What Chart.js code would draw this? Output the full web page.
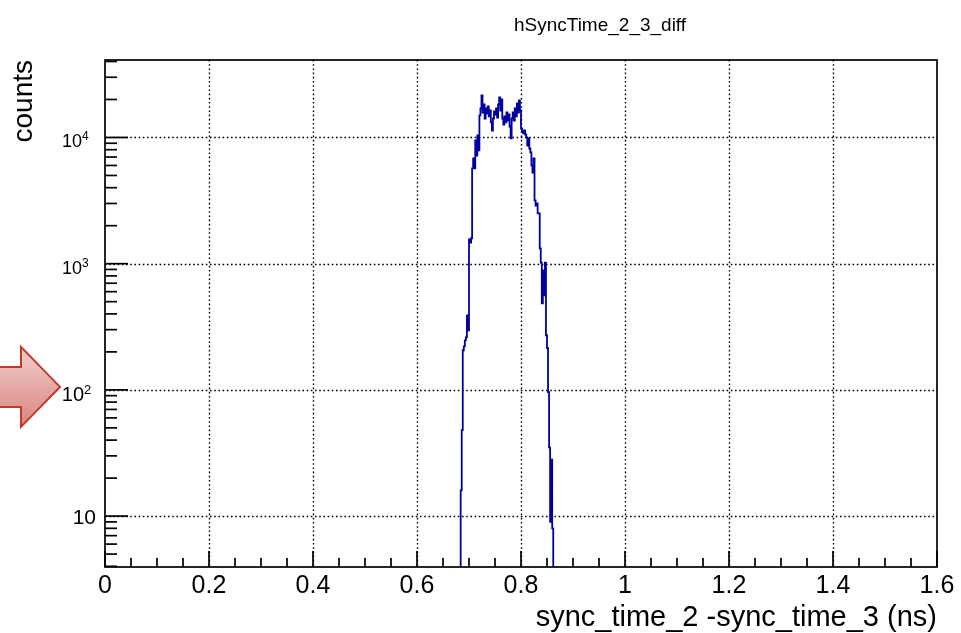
<!DOCTYPE html>
<html>
<head>
<meta charset="utf-8">
<title>hSyncTime_2_3_diff</title>
<script src="https://cdn.jsdelivr.net/npm/chart.js@4.4.1/dist/chart.umd.min.js"></script>
<style>
  html, body { margin: 0; padding: 0; background: #fff; }
  #wrap { width: 961px; height: 633px; }
</style>
</head>
<body>
<div id="wrap"><canvas id="hist"></canvas></div>
<script>
// sync_time_2 - sync_time_3, 2 ps bins starting at 0.684 ns
const binStart = 0.684;
const binWidth = 0.002;
const binCounts = [
  0, 16, 48, 206, 221, 247, 261, 390, 296, 1560,
  1470, 1590, 5680, 6820, 5680, 9470, 7200, 10400, 7890, 14940,
  16970, 21510, 15770, 18250, 14140, 16970, 15490, 17600, 14670, 16360,
  13150, 11360, 14140, 16070, 15210, 16970, 14400, 18250, 20740, 16360,
  19990, 14140, 12670, 14670, 13150, 15770, 13630, 15210, 12220, 9820,
  14140, 15770, 13630, 16970, 14670, 18590, 15770, 19640, 16360, 11780,
  11160, 10760, 11360, 10560, 10000, 8640, 9820, 8180, 7610, 6000,
  5280, 6820, 3170, 2890, 3000, 2500, 2500, 1320, 1020, 485,
  885, 561, 1020, 271, 214, 96, 35, 9, 28, 8,
  0
];

const xMin = 0, xMax = 1.6;
const yMin = 3.95, yMax = 41100;
const xGridValues = [0.2, 0.4, 0.6, 0.8, 1.0, 1.2, 1.4];
const yDecades = [10, 100, 1000, 10000];

const FONT = '"Liberation Sans", Arial, Helvetica, sans-serif';

// step points at the lower bin edges, plus the closing upper edge
const points = binCounts.map((c, i) => ({ x: binStart + i * binWidth, y: Math.max(c, yMin) }));
points.push({ x: binStart + binCounts.length * binWidth, y: yMin });

function seg(ctx, x1, y1, x2, y2) {
  ctx.beginPath();
  ctx.moveTo(x1, y1);
  ctx.lineTo(x2, y2);
  ctx.stroke();
}

const rootFrame = {
  id: 'rootFrame',
  beforeDatasetsDraw(chart) {
    const { ctx, chartArea: a, scales: { x, y } } = chart;
    ctx.save();
    ctx.strokeStyle = '#000';
    ctx.lineWidth = 1.4;
    ctx.setLineDash([1.6, 2.6]);
    for (const v of xGridValues) {
      const px = Math.round(x.getPixelForValue(v)) + 0.5;
      seg(ctx, px, a.top, px, a.bottom);
    }
    for (const v of yDecades) {
      const py = Math.round(y.getPixelForValue(v)) + 0.5;
      seg(ctx, a.left, py, a.right, py);
    }
    ctx.restore();
  },
  afterDatasetsDraw(chart) {
    const { ctx, chartArea: a, scales: { x, y } } = chart;
    ctx.save();
    ctx.strokeStyle = '#000';
    ctx.lineWidth = 1.7;

    // x ticks: major every 0.2, minor every 0.05
    for (let i = 0; i <= 32; i++) {
      const px = x.getPixelForValue(i * 0.05);
      const len = i % 4 === 0 ? 16 : 9;
      seg(ctx, px, a.bottom, px, a.bottom - len);
    }
    // y ticks: decades long, 2..9 short
    for (let d = 0; d <= 4; d++) {
      for (let m = 1; m <= 9; m++) {
        const v = m * Math.pow(10, d);
        if (v < yMin || v > yMax) continue;
        const py = y.getPixelForValue(v);
        seg(ctx, a.left, py, a.left + (m === 1 ? 23 : 12), py);
      }
    }
    ctx.strokeRect(a.left, a.top, a.right - a.left, a.bottom - a.top);

    // y labels: 10, 10^2, 10^3, 10^4
    ctx.fillStyle = '#000';
    ctx.textBaseline = 'alphabetic';
    for (const v of yDecades) {
      const py = y.getPixelForValue(v);
      const e = Math.round(Math.log10(v));
      if (e === 1) {
        ctx.font = '21px ' + FONT;
        ctx.textAlign = 'right';
        ctx.fillText('10', a.left - 9, py + 8);
      } else {
        const big = e === 2;
        ctx.font = (big ? 20 : 18) + 'px ' + FONT;
        ctx.textAlign = 'right';
        ctx.fillText('10', a.left - (big ? 21 : 23), py + (big ? 11 : 10));
        ctx.font = (big ? 13 : 12) + 'px ' + FONT;
        ctx.textAlign = 'left';
        ctx.fillText(String(e), a.left - (big ? 21 : 23), py + (big ? 4 : 3));
      }
    }
    ctx.restore();
  },
  afterDraw(chart) {
    const { ctx, chartArea: a, scales: { y } } = chart;
    ctx.save();
    ctx.fillStyle = '#000';

    // histogram title
    ctx.font = '19px ' + FONT;
    ctx.textAlign = 'center';
    ctx.textBaseline = 'alphabetic';
    ctx.fillText('hSyncTime_2_3_diff', 600, 31);

    // x axis title, flush right
    ctx.font = '29px ' + FONT;
    ctx.textAlign = 'right';
    ctx.fillText('sync_time_2 -sync_time_3 (ns)', a.right, 626);

    // y axis title, rotated, flush top
    ctx.font = '28px ' + FONT;
    ctx.save();
    ctx.translate(32, a.top);
    ctx.rotate(-Math.PI / 2);
    ctx.textAlign = 'right';
    ctx.fillText('counts', 0, 0);
    ctx.restore();

    // red marker arrow pointing at the 10^2 line
    const tipY = y.getPixelForValue(100) - 3;
    const tipX = 60;
    const grad = ctx.createLinearGradient(0, tipY - 40, 0, tipY + 40);
    grad.addColorStop(0, '#f2cfcd');
    grad.addColorStop(1, '#d8847e');
    ctx.beginPath();
    ctx.moveTo(-2, tipY - 20);
    ctx.lineTo(21, tipY - 20);
    ctx.lineTo(21, tipY - 40);
    ctx.lineTo(tipX, tipY);
    ctx.lineTo(21, tipY + 40);
    ctx.lineTo(21, tipY + 20);
    ctx.lineTo(-2, tipY + 20);
    ctx.closePath();
    ctx.fillStyle = grad;
    ctx.fill();
    ctx.strokeStyle = '#c0392b';
    ctx.lineWidth = 2;
    ctx.lineJoin = 'miter';
    ctx.stroke();
    ctx.restore();
  }
};

new Chart(document.getElementById('hist'), {
  type: 'line',
  data: {
    datasets: [{
      label: 'hSyncTime_2_3_diff',
      data: points,
      stepped: 'after',
      borderColor: '#00009c',
      borderWidth: 1.8,
      pointRadius: 0,
      fill: false
    }]
  },
  options: {
    responsive: true,
    maintainAspectRatio: false,
    animation: false,
    layout: { padding: { left: 0, right: 24, top: 60, bottom: 0 } },
    plugins: {
      legend: { display: false },
      tooltip: { enabled: false }
    },
    scales: {
      x: {
        type: 'linear',
        min: xMin,
        max: xMax,
        grid: { display: false },
        border: { display: false },
        ticks: {
          stepSize: 0.2,
          padding: -4,
          color: '#000',
          font: { family: FONT, size: 25 },
          maxRotation: 0,
          callback: v => String(+v.toFixed(1))
        },
        afterFit: s => { s.height = 66; }
      },
      y: {
        type: 'logarithmic',
        min: yMin,
        max: yMax,
        grid: { display: false },
        border: { display: false },
        ticks: { display: false },
        afterFit: s => { s.width = 105; }
      }
    }
  },
  plugins: [rootFrame]
});
</script>
</body>
</html>
